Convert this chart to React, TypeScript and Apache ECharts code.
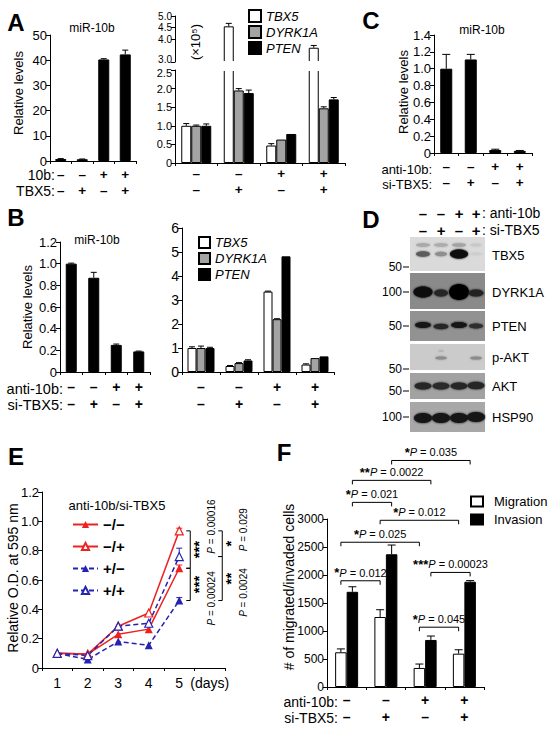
import React, { useEffect, useRef } from 'react';
import * as echarts from 'echarts';

const FONT = '"Liberation Sans", Arial, Helvetica, sans-serif';
const RED = '#ee2020';
const BLUE = '#2424b0';

// ---------- Panel A ----------
const A_ROW_10B = ['–', '–', '+', '+'];
const A_ROW_TBX5 = ['–', '+', '–', '+'];
const A_MIR10B = [0.8, 0.7, 40.3, 42.3];
const A_MIR10B_ERR = [0.15, 0.1, 0.3, 1.7];
const A_TBX5 = [1.0, 4.55, 0.47, 3.62];
const A_TBX5_ERR = [0.06, 0.13, 0.05, 0.1];
const A_DYRK1A = [1.0, 1.95, 0.63, 1.47];
const A_DYRK1A_ERR = [0.02, 0.05, 0, 0.04];
const A_PTEN = [1.0, 1.88, 0.78, 1.71];
const A_PTEN_ERR = [0.05, 0.08, 0, 0.05];
const A_TOP_TICKS = [3, 3.5, 4, 4.5, 5];

// ---------- Panel B ----------
const B_ROW_ANTI = ['–', '–', '+', '+'];
const B_ROW_SI = ['–', '+', '–', '+'];
const B_MIR10B = [1.0, 0.87, 0.25, 0.19];
const B_MIR10B_ERR = [0.005, 0.05, 0.008, 0.003];
const B_TBX5 = [1.0, 0.25, 3.35, 0.31];
const B_TBX5_ERR = [0.05, 0.02, 0.02, 0.03];
const B_DYRK1A = [1.0, 0.37, 2.2, 0.58];
const B_DYRK1A_ERR = [0.08, 0.02, 0.02, 0];
const B_PTEN = [1.0, 0.48, 4.82, 0.65];
const B_PTEN_ERR = [0.03, 0.03, 0, 0];

// ---------- Panel C ----------
const C_ROW_ANTI = ['–', '–', '+', '+'];
const C_ROW_SI = ['–', '+', '–', '+'];
const C_MIR10B = [1.0, 1.11, 0.035, 0.025];
const C_MIR10B_ERR = [0.17, 0.06, 0.01, 0.005];

// ---------- Panel D ----------
const D_ROW_ANTI = ['–', '–', '+', '+'];
const D_ROW_SI = ['–', '+', '–', '+'];
const D_BLOTS = ['TBX5', 'DYRK1A', 'PTEN', 'p-AKT', 'AKT', 'HSP90'];
const D_MARKERS = ['50', '100', '50', '50', '50', '100'];

// ---------- Panel E ----------
const E_DAYS = ['1', '2', '3', '4', '5', '(days)'];
const E_NAMES = ['−/−', '−/+', '+/−', '+/+'];
const E_NN = [0.1, 0.095, 0.23, 0.265, 0.68];
const E_NP = [0.1, 0.095, 0.285, 0.375, 0.935];
const E_PN = [0.1, 0.058, 0.18, 0.155, 0.46];
const E_PP = [0.1, 0.085, 0.285, 0.305, 0.76];
const E_DAY5_ERR = [0.022, 0.018, 0.02, 0.057];
const E_STARS = ['***', '***', '*', '**'];
const E_PVALUES = ['0.00016', '0.00024', '0.029', '0.0024'];

// ---------- Panel F ----------
const F_ROW_ANTI = ['–', '–', '+', '+'];
const F_ROW_SI = ['–', '+', '–', '+'];
const F_MIGRATION = [620, 1250, 340, 595];
const F_MIGRATION_ERR = [60, 130, 70, 70];
const F_INVASION = [1700, 2370, 840, 1880];
const F_INVASION_ERR = [90, 165, 70, 20];
const F_STARS = ['*', '**', '*', '*', '*', '***', '*', '*'];
const F_PVALUES = ['0.035', '0.0022', '0.021', '0.012', '0.025', '0.00023', '0.012', '0.045'];

const cats = (r1: string[], r2: string[]) => r1.map((s, i) => s + '\n' + r2[i]);
const fmt1 = (v: number) => (v === 0 ? '0' : v.toFixed(1));

function T(text: string, x: number, y: number, o: any = {}) {
  return {
    type: 'text',
    x,
    y,
    rotation: o.rot ? Math.PI / 2 : 0,
    z: 100,
    silent: true,
    style: {
      text,
      fill: '#000',
      fontFamily: FONT,
      fontSize: o.size || 13,
      fontWeight: o.weight || 'normal',
      fontStyle: o.style || 'normal',
      textAlign: o.align || 'center',
      align: o.align || 'center',
      textVerticalAlign: 'middle',
      verticalAlign: 'middle',
      rich: o.rich,
    },
  };
}

function errRender(cap: number, colors?: string[]) {
  return (params: any, api: any) => {
    const x = api.value(0);
    const v = api.value(1);
    const e = api.value(2);
    const off = api.value(3);
    const c = colors ? colors[api.value(4)] : '#000';
    const p0 = api.coord([x, v]);
    const p1 = api.coord([x, v + e]);
    const cx = p0[0] + off;
    return {
      type: 'group',
      children: [
        { type: 'line', shape: { x1: cx, y1: p0[1], x2: cx, y2: p1[1] }, style: { stroke: c, lineWidth: 1 } },
        { type: 'line', shape: { x1: cx - cap, y1: p1[1], x2: cx + cap, y2: p1[1] }, style: { stroke: c, lineWidth: 1 } },
      ],
    };
  };
}

const errData = (vals: number[], errs: number[], off: number, keep?: (v: number) => boolean) =>
  vals
    .map((v, i) => [i, v, errs[i], off])
    .filter((d) => d[2] > 0 && (!keep || keep(d[1])));

const bar = (name: string, axis: number, data: any[], style: any, w: number) => ({
  type: 'bar',
  name,
  xAxisIndex: axis,
  yAxisIndex: axis,
  data,
  barWidth: w,
  barGap: '0%',
  itemStyle: style,
  clip: true,
  silent: true,
  z: 2,
});

const err = (name: string, axis: number, data: any[], cap: number, colors?: string[], z = 3) => ({
  type: 'custom',
  name,
  xAxisIndex: axis,
  yAxisIndex: axis,
  data,
  renderItem: errRender(cap, colors),
  encode: { x: 0, y: 1 },
  silent: true,
  z,
});

const ST_TBX5 = { color: '#fff', borderColor: '#000', borderWidth: 1 };
const ST_DYRK = { color: '#a3a3a3', borderColor: '#000', borderWidth: 1 };
const ST_PTEN = { color: '#000', borderColor: '#000', borderWidth: 1 };

function yv(grid: number, min: number, max: number, interval: number, size: number, fmt?: any, lh = 10, extra: any = {}) {
  return {
    type: 'value',
    gridIndex: grid,
    min,
    max,
    interval,
    axisLine: { show: true, lineStyle: { color: '#000', width: 1 } },
    axisTick: { show: true, length: 4, inside: false, lineStyle: { color: '#000' } },
    splitLine: { show: false },
    axisLabel: {
      color: '#000',
      fontFamily: FONT,
      fontSize: size,
      lineHeight: lh,
      margin: 3,
      showMinLabel: true,
      showMaxLabel: true,
      hideOverlap: false,
      formatter: fmt || ((v: number) => String(v)),
      ...extra,
    },
  };
}

function xc(grid: number, data: string[], lh: number, margin: number, extra: any = {}) {
  return {
    type: 'category',
    gridIndex: grid,
    data,
    axisLine: { show: true, lineStyle: { color: '#000', width: 1 } },
    axisTick: { show: true, length: 3, alignWithLabel: false, interval: 0, lineStyle: { color: '#000' } },
    splitLine: { show: false },
    axisLabel: {
      color: '#000',
      fontFamily: FONT,
      fontSize: 14,
      fontWeight: 'bold',
      lineHeight: lh,
      margin,
      interval: 0,
      showMinLabel: true,
      showMaxLabel: true,
      ...extra,
    },
  };
}

function staticGraphic() {
  const g: any[] = [];
  const L = { size: 24, weight: 'bold' };
  g.push(T('A', 16, 22, L), T('B', 16, 217, L), T('C', 371, 20, L), T('D', 371, 219, L), T('E', 16, 456, L), T('F', 284, 452, L));
  g.push(T('miR-10b', 92, 28, { size: 12 }), T('miR-10b', 97, 240, { size: 12 }), T('miR-10b', 482, 30, { size: 12 }));
  g.push(
    T('Relative levels', 18, 93, { size: 13, rot: true }),
    T('Relative levels', 403, 92, { size: 13, rot: true }),
    T('Relative levels', 27, 307, { size: 13, rot: true }),
    T('Relative O.D. at 595 nm', 13, 578, { size: 14, rot: true }),
    T('# of migrated/invaded cells', 289, 587, { size: 14, rot: true }),
    T('(×10⁵)', 195, 42, { size: 13, rot: true })
  );
  g.push(
    T('10b:', 55, 175, { size: 14, align: 'right' }),
    T('TBX5:', 55, 191, { size: 14, align: 'right' }),
    T('anti-10b:', 63, 389, { size: 14.5, align: 'right' }),
    T('si-TBX5:', 63, 405, { size: 14.5, align: 'right' }),
    T('anti-10b:', 432, 169, { size: 13, align: 'right' }),
    T('si-TBX5:', 432, 184, { size: 13, align: 'right' }),
    T('anti-10b:', 338, 702, { size: 14, align: 'right' }),
    T('si-TBX5:', 338, 718, { size: 14, align: 'right' })
  );
  g.push(T('anti-10b/si-TBX5', 117, 505, { size: 13 }));
  // axis break in panel A
  g.push({ type: 'rect', shape: { x: 176, y: 61, width: 170, height: 10 }, style: { fill: '#fff' }, z: 90, silent: true });

  // ---- Western blot panel D ----
  const lanes = [423, 441, 459, 476];
  D_ROW_ANTI.forEach((s, i) => g.push(T(s, lanes[i], 213, { size: 15, weight: 'bold' })));
  D_ROW_SI.forEach((s, i) => g.push(T(s, lanes[i], 230, { size: 15, weight: 'bold' })));
  g.push(T(': anti-10b', 482, 213, { size: 14, align: 'left' }), T(': si-TBX5', 482, 230, { size: 14, align: 'left' }));
  const panels = [
    { y0: 237, y1: 271, bg: '#dadada', my: 267, ly: 255 },
    { y0: 273, y1: 309, bg: '#8a8a8a', my: 292, ly: 292 },
    { y0: 311, y1: 341, bg: '#929292', my: 326, ly: 326 },
    { y0: 344, y1: 370, bg: '#cbcbcb', my: 369, ly: 357 },
    { y0: 373, y1: 399, bg: '#a2a2a2', my: 391, ly: 386 },
    { y0: 402, y1: 432, bg: '#a8a8a8', my: 417, ly: 417 },
  ];
  const bands: any[][] = [
    [
      [0, 245, 7, 1.8, '#a9a9a9'], [1, 245, 7, 1.8, '#acacac'], [2, 245, 7, 1.8, '#a2a2a2'], [3, 245, 6, 1.5, '#c8c8c8'],
      [0, 254, 7, 2.8, '#5c5c5c'], [1, 254, 6, 2.2, '#8e8e8e'], [2, 254, 9, 4.5, '#0d0d0d'], [3, 254, 6, 1.4, '#cdcdcd'],
    ],
    [[0, 292, 9.5, 5.5, '#080808'], [1, 293, 7, 3.5, '#262626'], [2, 292, 10, 8, '#050505'], [3, 293, 7.5, 3.5, '#222']],
    [[0, 325, 8, 3, '#161616'], [1, 326.5, 7.5, 2.8, '#262626'], [2, 325, 8, 3, '#141414'], [3, 326, 7, 2.5, '#2e2e2e']],
    [[1, 358, 6, 1.5, '#8c8c8c'], [3, 358, 6, 1.6, '#8a8a8a'], [1, 351, 3, 0.8, '#b0b0b0']],
    [[0, 386, 8.5, 3.5, '#262626'], [1, 386, 8.5, 3.5, '#2a2a2a'], [2, 386, 8.5, 3.5, '#262626'], [3, 385.5, 8.5, 3.8, '#262626']],
    [[0, 418, 9, 5, '#141414'], [1, 418, 9, 5, '#141414'], [2, 418, 9, 5, '#141414'], [3, 417, 9, 5, '#141414']],
  ];
  panels.forEach((p, k) => {
    g.push({ type: 'rect', shape: { x: 410, y: p.y0, width: 75, height: p.y1 - p.y0 }, style: { fill: p.bg }, z: 60, silent: true });
    bands[k].forEach((b) =>
      g.push({
        type: 'ellipse',
        shape: { cx: lanes[b[0]], cy: b[1], rx: b[2], ry: b[3] },
        style: { fill: b[4], shadowBlur: 2, shadowColor: b[4] },
        z: 61,
        silent: true,
      })
    );
    g.push(T(D_MARKERS[k], 402, p.my, { size: 12, align: 'right' }));
    g.push({ type: 'line', shape: { x1: 403, y1: p.my, x2: 409, y2: p.my }, style: { stroke: '#000', lineWidth: 1 }, z: 60, silent: true });
    g.push(T(D_BLOTS[k], 492, p.ly, { size: 13, align: 'left' }));
  });
  return g;
}

function buildAnnotations(chart: any) {
  const out: any[] = [];
  // ---- Panel F brackets ----
  const fw = 11.5;
  const fOff = [-fw / 2, fw / 2];
  const pairs = [
    [[1, 1], [3, 1]],
    [[0, 1], [2, 1]],
    [[0, 1], [1, 1]],
    [[1, 0], [3, 0]],
    [[0, 0], [2, 0]],
    [[2, 1], [3, 1]],
    [[0, 0], [1, 0]],
    [[2, 0], [3, 0]],
  ];
  const levels = [4045, 3690, 3297, 2977, 2585, 2046, 1897, 1068];
  const richF = {
    s: { fontSize: 13, fontWeight: 'bold', fontFamily: FONT, fill: '#000', color: '#000' },
    i: { fontSize: 11, fontStyle: 'italic', fontFamily: FONT, fill: '#000', color: '#000' },
    n: { fontSize: 11, fontFamily: FONT, fill: '#000', color: '#000' },
  };
  pairs.forEach((pr, k) => {
    const pa = chart.convertToPixel({ xAxisIndex: 7, yAxisIndex: 7 }, [pr[0][0], levels[k]]);
    const pb = chart.convertToPixel({ xAxisIndex: 7, yAxisIndex: 7 }, [pr[1][0], levels[k]]);
    const x1 = pa[0] + fOff[pr[0][1]];
    const x2 = pb[0] + fOff[pr[1][1]];
    const y = pa[1];
    out.push({
      type: 'polyline',
      shape: { points: [[x1, y + 4], [x1, y], [x2, y], [x2, y + 4]] },
      style: { stroke: '#000', lineWidth: 1, fill: null },
      z: 100,
      silent: true,
    });
    out.push(
      T(`{s|${F_STARS[k]}}{i|P}{n| = ${F_PVALUES[k]}}`, (x1 + x2) / 2, y - 8, { size: 11, rich: richF })
    );
  });

  // ---- Panel E brackets ----
  const eVals = [E_NN[4], E_NP[4], E_PN[4], E_PP[4]];
  const ePairs = [
    [1, 0, 11, -23],
    [0, 2, 11, 14],
    [1, 3, 43, -14],
    [3, 2, 43, 14],
  ];
  const richE = {
    i: { fontSize: 10, fontStyle: 'italic', fontFamily: FONT, fill: '#000', color: '#000' },
    n: { fontSize: 10, fontFamily: FONT, fill: '#000', color: '#000' },
  };
  ePairs.forEach((p, k) => {
    const pa = chart.convertToPixel({ xAxisIndex: 6, yAxisIndex: 6 }, [4, eVals[p[0]]]);
    const pb = chart.convertToPixel({ xAxisIndex: 6, yAxisIndex: 6 }, [4, eVals[p[1]]]);
    const bx = pa[0] + p[2];
    out.push({
      type: 'polyline',
      shape: { points: [[bx - 4, pa[1]], [bx, pa[1]], [bx, pb[1]], [bx - 4, pb[1]]] },
      style: { stroke: '#000', lineWidth: 1, fill: null },
      z: 100,
      silent: true,
    });
    const mid = (pa[1] + pb[1]) / 2;
    out.push(T(E_STARS[k], bx + 8, mid, { size: 15, weight: 'bold', rot: true }));
    out.push(T(`{i|P}{n| = ${E_PVALUES[k]}}`, bx + 21, mid + p[3], { size: 10, rot: true, rich: richE }));
  });
  return out;
}

function buildOption() {
  const grids = [
    { left: 50, top: 35, width: 86, height: 126 },
    { left: 175, top: 16, width: 170, height: 46 },
    { left: 175, top: 70, width: 170, height: 93 },
    { left: 434, top: 35, width: 98, height: 118 },
    { left: 60, top: 242, width: 90, height: 130 },
    { left: 182, top: 228, width: 152, height: 144 },
    { left: 42, top: 492, width: 183, height: 176 },
    { left: 327, top: 519, width: 157, height: 168 },
  ].map((g) => ({ ...g, containLabel: false, outerBoundsMode: 'none', show: false }));

  const aCats = cats(A_ROW_10B, A_ROW_TBX5);
  const xAxis = [
    xc(0, aCats, 16.5, 5, { fontSize: 13.5 }),
    { ...xc(1, aCats, 15, 2), show: false },
    xc(2, aCats, 16, 2, { fontSize: 13.5 }),
    xc(3, cats(C_ROW_ANTI, C_ROW_SI), 16.5, 5, { fontSize: 13.5 }),
    xc(4, cats(B_ROW_ANTI, B_ROW_SI), 17, 6),
    xc(5, cats(B_ROW_ANTI, B_ROW_SI), 17, 6),
    xc(6, E_DAYS, 16, 7, { fontWeight: 'normal', fontSize: 14 }),
    xc(7, cats(F_ROW_ANTI, F_ROW_SI), 17, 4),
  ];
  const topFmt = (v: number) => (v === 3 ? '{u|3.0}' : v.toFixed(1));
  const botFmt = (v: number) => (v === 2.5 ? '{d|2.5}' : fmt1(v));
  const yAxis = [
    yv(0, 0, 50, 10, 13),
    yv(1, 3, 5, 0.5, 10, topFmt, 7, {
      customValues: A_TOP_TICKS,
      rich: { u: { fontSize: 10, fontFamily: FONT, color: '#000', padding: [0, 0, 5, 0] } },
    }),
    yv(2, 0, 2.5, 0.5, 11, botFmt, 7, {
      rich: { d: { fontSize: 11, fontFamily: FONT, color: '#000', padding: [5, 0, 0, 0] } },
    }),
    yv(3, 0, 1.4, 0.2, 13, fmt1),
    yv(4, 0, 1.2, 0.2, 13, fmt1),
    yv(5, 0, 6, 1, 14),
    yv(6, 0, 1.2, 0.2, 13, fmt1),
    yv(7, 0, 3000, 500, 12),
  ];
  (yAxis[1] as any).axisTick.customValues = A_TOP_TICKS;

  const aw = 10;
  const top = (arr: number[]) => arr.map((v) => (v > 3 ? v : '-'));
  const series: any[] = [
    // A left
    bar('miR-10b A', 0, A_MIR10B, ST_PTEN, 11),
    err('errA0', 0, errData(A_MIR10B, A_MIR10B_ERR, 0), 3),
    // A right top
    bar('TBX5', 1, top(A_TBX5), ST_TBX5, aw),
    bar('DYRK1A', 1, top(A_DYRK1A), ST_DYRK, aw),
    bar('PTEN', 1, top(A_PTEN), ST_PTEN, aw),
    err('errA1', 1, errData(A_TBX5, A_TBX5_ERR, -aw, (v) => v > 3), 3),
    // A right bottom
    bar('TBX5', 2, A_TBX5, ST_TBX5, aw),
    bar('DYRK1A', 2, A_DYRK1A, ST_DYRK, aw),
    bar('PTEN', 2, A_PTEN, ST_PTEN, aw),
    err(
      'errA2',
      2,
      [
        ...errData(A_TBX5, A_TBX5_ERR, -aw, (v) => v < 2.5),
        ...errData(A_DYRK1A, A_DYRK1A_ERR, 0, (v) => v < 2.5),
        ...errData(A_PTEN, A_PTEN_ERR, aw, (v) => v < 2.5),
      ],
      3
    ),
    // C
    bar('miR-10b C', 3, C_MIR10B, ST_PTEN, 12),
    err('errC', 3, errData(C_MIR10B, C_MIR10B_ERR, 0), 4),
    // B left
    bar('miR-10b B', 4, B_MIR10B, ST_PTEN, 11),
    err('errB0', 4, errData(B_MIR10B, B_MIR10B_ERR, 0), 3),
    // B right
    bar('TBX5', 5, B_TBX5, ST_TBX5, 9),
    bar('DYRK1A', 5, B_DYRK1A, ST_DYRK, 9),
    bar('PTEN', 5, B_PTEN, ST_PTEN, 9),
    err(
      'errB1',
      5,
      [...errData(B_TBX5, B_TBX5_ERR, -9), ...errData(B_DYRK1A, B_DYRK1A_ERR, 0), ...errData(B_PTEN, B_PTEN_ERR, 9)],
      3
    ),
    // F
    bar('Migration', 7, F_MIGRATION, ST_TBX5, 11.5),
    bar('Invasion', 7, F_INVASION, ST_PTEN, 11.5),
    err('errF', 7, [...errData(F_MIGRATION, F_MIGRATION_ERR, -5.75), ...errData(F_INVASION, F_INVASION_ERR, 5.75)], 4),
  ];

  const eLines = [
    [E_NN, RED, false, false],
    [E_NP, RED, false, true],
    [E_PN, BLUE, true, false],
    [E_PP, BLUE, true, true],
  ];
  eLines.forEach((l: any, k) => {
    series.push({
      type: 'line',
      name: E_NAMES[k],
      xAxisIndex: 6,
      yAxisIndex: 6,
      data: l[0],
      symbol: 'triangle',
      symbolSize: 8,
      showSymbol: true,
      lineStyle: { color: l[1], width: 1.5, type: l[2] ? [5, 3] : 'solid' },
      itemStyle: { color: l[3] ? '#fff' : l[1], borderColor: l[1], borderWidth: l[3] ? 1.2 : 0 },
      z: 5,
      silent: true,
    });
  });
  series.push(
    err(
      'errE',
      6,
      E_DAY5_ERR.map((e, k) => [4, [E_NN, E_NP, E_PN, E_PP][k][4], e, 0, k]),
      3,
      [RED, RED, BLUE, BLUE],
      4
    )
  );

  const legText = { color: '#000', fontFamily: FONT, fontSize: 13 };
  const legend = [
    {
      data: ['TBX5', 'DYRK1A', 'PTEN'],
      orient: 'vertical',
      left: 248,
      top: 9,
      padding: 0,
      itemWidth: 12,
      itemHeight: 12,
      itemGap: 2,
      icon: 'rect',
      selectedMode: false,
      textStyle: { ...legText, fontStyle: 'italic' },
    },
    {
      data: ['TBX5', 'DYRK1A', 'PTEN'],
      orient: 'vertical',
      left: 198,
      top: 236,
      padding: 0,
      itemWidth: 11,
      itemHeight: 11,
      itemGap: 3,
      icon: 'rect',
      selectedMode: false,
      textStyle: { ...legText, fontStyle: 'italic' },
    },
    {
      data: ['Migration', 'Invasion'],
      orient: 'vertical',
      left: 470,
      top: 495,
      padding: 0,
      itemWidth: 12,
      itemHeight: 10,
      itemGap: 5,
      icon: 'rect',
      selectedMode: false,
      textStyle: { ...legText, padding: [0, 0, 0, 6] },
    },
    {
      data: E_NAMES,
      orient: 'vertical',
      left: 72,
      top: 517,
      padding: 0,
      itemWidth: 25,
      itemHeight: 9,
      itemGap: 7,
      selectedMode: false,
      textStyle: { ...legText, fontSize: 15, fontWeight: 'bold' },
    },
  ];

  return {
    animation: false,
    backgroundColor: '#fff',
    textStyle: { fontFamily: FONT },
    grid: grids,
    xAxis,
    yAxis,
    legend,
    series,
    graphic: staticGraphic(),
  };
}

export default function App() {
  const ref = useRef<HTMLDivElement>(null);
  useEffect(() => {
    const chart = echarts.init(ref.current as HTMLDivElement, null, { renderer: 'svg' });
    chart.setOption(buildOption() as any);
    const ann = buildAnnotations(chart);
    chart.setOption({ graphic: [...staticGraphic(), ...ann] } as any);
    return () => chart.dispose();
  }, []);
  return (
    <div
      ref={ref}
      style={{ position: 'fixed', left: 0, top: 0, width: 555, height: 732, background: '#fff' }}
    />
  );
}
